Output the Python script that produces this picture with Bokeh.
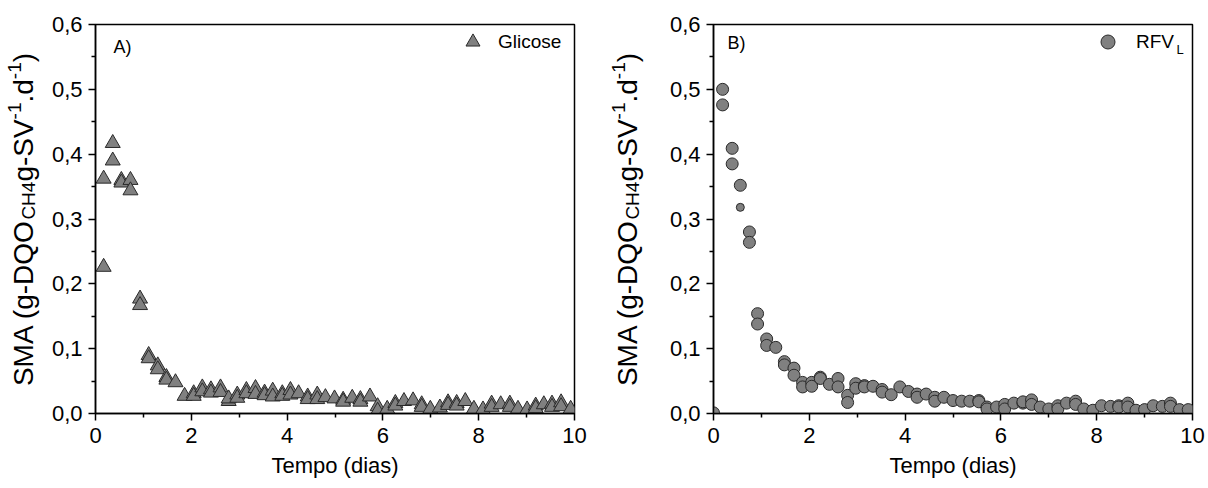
from bokeh.plotting import figure
from bokeh.layouts import row
from bokeh.models import Range1d, FixedTicker, Label, Legend, LegendItem, CustomJSTickFormatter
from bokeh.embed import file_html
from bokeh.resources import INLINE
import math

# ---------------- data ----------------
glicose_t = [0.17, 0.17, 0.36, 0.36, 0.54, 0.54, 0.73, 0.73, 0.93, 0.93,
             1.11, 1.11, 1.30, 1.30, 1.48, 1.48, 1.67, 1.86, 2.05, 2.05,
             2.23, 2.23, 2.41, 2.41, 2.61, 2.61, 2.78, 2.78, 2.96, 2.96,
             3.15, 3.15, 3.34, 3.34, 3.53, 3.53, 3.70, 3.70, 3.90, 3.90,
             4.07, 4.07, 4.24, 4.43, 4.43, 4.63, 4.63, 4.80, 4.99, 5.17,
             5.17, 5.36, 5.53, 5.53, 5.73, 5.89, 5.89, 6.09, 6.26, 6.26,
             6.44, 6.63, 6.81, 6.81, 6.99, 7.19, 7.36, 7.36, 7.54, 7.54,
             7.72, 7.90, 8.09, 8.27, 8.27, 8.46, 8.65, 8.65, 8.82, 9.01,
             9.19, 9.19, 9.36, 9.53, 9.53, 9.72, 9.72, 9.92]
glicose_sma = [0.362, 0.226, 0.417, 0.390, 0.360, 0.356, 0.360, 0.344, 0.177, 0.167,
               0.090, 0.085, 0.074, 0.068, 0.056, 0.052, 0.048, 0.027, 0.031, 0.027,
               0.040, 0.034, 0.037, 0.032, 0.040, 0.033, 0.019, 0.023, 0.029, 0.024,
               0.036, 0.031, 0.039, 0.030, 0.032, 0.028, 0.035, 0.026, 0.031, 0.027,
               0.036, 0.029, 0.031, 0.026, 0.022, 0.029, 0.022, 0.025, 0.023, 0.021,
               0.018, 0.024, 0.022, 0.018, 0.026, 0.011, 0.004, 0.007, 0.016, 0.012,
               0.019, 0.020, 0.014, 0.010, 0.007, 0.009, 0.017, 0.013, 0.016, 0.012,
               0.019, 0.007, 0.006, 0.015, 0.010, 0.014, 0.015, 0.010, 0.007, 0.006,
               0.012, 0.008, 0.014, 0.015, 0.010, 0.017, 0.011, 0.007]

rfv_t = [0.00, 0.19, 0.19, 0.39, 0.39, 0.56, 0.75, 0.75, 0.92, 0.92,
         1.11, 1.11, 1.30, 1.48, 1.48, 1.68, 1.68, 1.86, 1.86, 2.05,
         2.05, 2.23, 2.23, 2.42, 2.60, 2.60, 2.80, 2.80, 2.97, 2.97,
         3.15, 3.15, 3.33, 3.52, 3.52, 3.71, 3.89, 4.07, 4.25, 4.25,
         4.44, 4.62, 4.62, 4.81, 5.00, 5.18, 5.35, 5.54, 5.54, 5.71,
         5.71, 5.91, 6.08, 6.08, 6.27, 6.46, 6.46, 6.64, 6.64, 6.82,
         7.00, 7.19, 7.19, 7.37, 7.56, 7.56, 7.73, 7.92, 8.10, 8.29,
         8.46, 8.46, 8.65, 8.65, 8.82, 9.00, 9.18, 9.37, 9.54, 9.54,
         9.73, 9.91]
rfv_sma = [0.001, 0.500, 0.476, 0.409, 0.385, 0.352, 0.280, 0.264, 0.154, 0.138,
           0.115, 0.105, 0.102, 0.080, 0.075, 0.070, 0.059, 0.048, 0.041, 0.048,
           0.042, 0.056, 0.054, 0.045, 0.054, 0.041, 0.028, 0.017, 0.046, 0.039,
           0.043, 0.041, 0.042, 0.037, 0.033, 0.029, 0.041, 0.034, 0.030, 0.025,
           0.030, 0.025, 0.019, 0.025, 0.020, 0.019, 0.019, 0.020, 0.018, 0.010,
           0.007, 0.010, 0.014, 0.007, 0.016, 0.016, 0.018, 0.021, 0.014, 0.010,
           0.007, 0.012, 0.007, 0.016, 0.019, 0.014, 0.007, 0.005, 0.012, 0.011,
           0.012, 0.010, 0.016, 0.010, 0.005, 0.006, 0.012, 0.011, 0.016, 0.011,
           0.006, 0.006]
# one smaller marker in the RFV series
rfv_small_t = [0.56]
rfv_small_sma = [0.318]

x_ticks = [0, 2, 4, 6, 8, 10]
x_minor = [1, 3, 5, 7, 9]
y_ticks = [0.0, 0.1, 0.2, 0.3, 0.4, 0.5, 0.6]
y_minor = [0.05, 0.15, 0.25, 0.35, 0.45, 0.55]

x_title = "Tempo (dias)"
# y title pieces: (text, kind)
y_title = [("SMA (g-DQO", "main"), ("CH4", "sub"), ("g-SV", "main"), ("-1", "sup"),
           (".d", "main"), ("-1", "sup"), (")", "main")]

FONT = "Liberation Sans"
FILL = "#808080"
EDGE = "#2a2a2a"

# Arial advance widths (per 1000 em) for layout of the composed y title
ARIAL = {'S': 667, 'M': 833, 'A': 667, ' ': 278, '(': 333, 'g': 556, '-': 333,
         'D': 722, 'Q': 778, 'O': 778, 'C': 722, 'H': 722, '4': 556, 'V': 667,
         '1': 556, '.': 278, 'd': 556, ')': 333}

H = 488
FRAME_TOP = 24
FRAME_BOTTOM = 413
FRAME_W = 479
PX_X = FRAME_W / 10.0
PX_Y = (FRAME_BOTTOM - FRAME_TOP) / 0.6
TITLE_W = 46


def text_w(s, size):
    return sum(ARIAL[c] for c in s) / 1000.0 * size


def make_title_strip():
    """Narrow blank plot holding the composed, rotated y-axis title.
    Its frame spans the same rows as the data frames; coordinates are image pixels."""
    t = figure(width=TITLE_W, height=H, x_range=Range1d(0, TITLE_W),
               y_range=Range1d(H - FRAME_BOTTOM, H - FRAME_TOP),
               output_backend="svg", toolbar_location=None,
               min_border_left=0, min_border_right=0,
               min_border_top=FRAME_TOP, min_border_bottom=H - FRAME_BOTTOM,
               x_axis_location=None, y_axis_location=None)
    t.xgrid.visible = False
    t.ygrid.visible = False
    t.outline_line_color = None
    t.background_fill_color = "white"
    t.border_fill_color = "white"
    main_fs, small_fs = 28, 19
    widths = [text_w(s, main_fs if k == "main" else small_fs) for s, k in y_title]
    total = sum(widths)
    center_img_y = 219
    start_img_y = center_img_y + total / 2.0
    base_x = {"main": 23, "sub": 28, "sup": 14}
    off = 0.0
    for (s, k), w in zip(y_title, widths):
        y_img = start_img_y - off
        t.add_layout(Label(x=base_x[k], y=H - y_img, x_units="data", y_units="data",
                           text=s, angle=math.pi / 2, text_align="left",
                           text_baseline="alphabetic", text_font=FONT, text_color="black",
                           text_font_size=f"{main_fs if k == 'main' else small_fs}px"))
        off += w
    return t


def make_panel(width, left, right):
    p = figure(width=width, height=H, x_range=Range1d(0, 10), y_range=Range1d(0, 0.6),
               output_backend="svg", toolbar_location=None,
               min_border_left=left, min_border_right=right,
               min_border_top=FRAME_TOP, min_border_bottom=H - FRAME_BOTTOM)
    p.xgrid.visible = False
    p.ygrid.visible = False
    p.outline_line_color = "black"
    p.outline_line_width = 1.5
    p.background_fill_color = "white"
    p.border_fill_color = "white"
    for ax in (p.xaxis[0], p.yaxis[0]):
        ax.axis_line_color = "black"
        ax.axis_line_width = 1.5
        ax.major_tick_out = 7
        ax.major_tick_in = 0
        ax.minor_tick_out = 4
        ax.minor_tick_in = 0
        ax.major_tick_line_color = "black"
        ax.minor_tick_line_color = "black"
        ax.major_tick_line_width = 1.5
        ax.minor_tick_line_width = 1.5
        ax.major_label_text_font = FONT
        ax.major_label_text_color = "black"
        ax.major_label_text_font_size = "22px"
    xa = p.xaxis[0]
    xa.ticker = FixedTicker(ticks=x_ticks, minor_ticks=x_minor)
    xa.major_label_standoff = 7
    xa.axis_label = x_title
    xa.axis_label_text_font = FONT
    xa.axis_label_text_font_size = "22px"
    xa.axis_label_text_font_style = "normal"
    xa.axis_label_text_color = "black"
    xa.axis_label_standoff = 7
    ya = p.yaxis[0]
    ya.ticker = FixedTicker(ticks=y_ticks, minor_ticks=y_minor)
    ya.formatter = CustomJSTickFormatter(code="return tick.toFixed(1).replace('.', ',');")
    ya.major_label_standoff = 6
    ya.axis_label = None
    return p


def make_legend(label, renderer, vx, standoff):
    return Legend(items=[LegendItem(label=label, renderers=[renderer])], location=(vx, 354),
                  border_line_color=None, background_fill_alpha=0, padding=0, margin=0,
                  glyph_width=35, glyph_height=35, label_standoff=standoff, label_height=20,
                  label_text_font=FONT, label_text_font_size="19px",
                  label_text_color="black", spacing=0)


# ---------------- panel A ----------------
ta = make_title_strip()
pa = make_panel(604 - TITLE_W, 95 - TITLE_W, 604 - 95 - FRAME_W)
ra = pa.scatter(glicose_t, glicose_sma, marker="triangle", size=15,
                fill_color=FILL, line_color=EDGE, line_width=1)
pa.add_layout(Label(x=18 / PX_X, y=(FRAME_BOTTOM - 46) / PX_Y, text="A)",
                    text_font=FONT, text_font_size="18px", text_baseline="middle",
                    text_align="left", text_color="black"))
pa.add_layout(make_legend("Glicose", ra, 360, 8))

# ---------------- panel B ----------------
tb = make_title_strip()
pb = make_panel(604 - TITLE_W, 713 - 604 - TITLE_W, 604 - 109 - FRAME_W)
rb = pb.scatter(rfv_t, rfv_sma, marker="circle", size=12,
                fill_color=FILL, line_color=EDGE, line_width=1)
pb.scatter(rfv_small_t, rfv_small_sma, marker="circle", size=8,
           fill_color=FILL, line_color=EDGE, line_width=1)
pb.add_layout(Label(x=14 / PX_X, y=(FRAME_BOTTOM - 42) / PX_Y, text="B)",
                    text_font=FONT, text_font_size="18px", text_baseline="middle",
                    text_align="left", text_color="black"))
pb.add_layout(make_legend("RFV", rb, 377, 11))
pb.add_layout(Label(x=(1176 - 713) / PX_X, y=(FRAME_BOTTOM - 49) / PX_Y, text="L",
                    text_font=FONT, text_font_size="13px", text_baseline="alphabetic",
                    text_align="left", text_color="black"))

layout = row(ta, pa, tb, pb)
open("out.html", "w").write(file_html(layout, INLINE))
